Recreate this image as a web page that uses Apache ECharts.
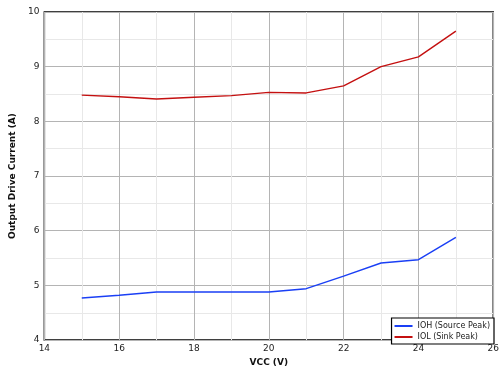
<!DOCTYPE html>
<html><head><meta charset="utf-8">
<script src="https://cdn.jsdelivr.net/npm/echarts@6/dist/echarts.min.js"></script>
<style>html,body{margin:0;padding:0;background:#fff}#c{width:502px;height:372px}</style>
</head><body><div id="c"></div>
<script>
const vcc = [15, 16, 17, 18, 19, 20, 21, 22, 23, 24, 25];
const ioh = [4.77, 4.82, 4.88, 4.88, 4.88, 4.88, 4.94, 5.17, 5.41, 5.47, 5.88];
const iol = [8.48, 8.45, 8.41, 8.44, 8.47, 8.53, 8.52, 8.65, 9.00, 9.18, 9.65];
const names = ['IOH (Source Peak)', 'IOL (Sink Peak)'];
const font = 'DejaVu Sans';
const chart = echarts.init(document.getElementById('c'), null, {renderer: 'canvas'});
chart.setOption({
  animation: false,
  textStyle: {fontFamily: font},
  grid: {left: 41, right: 8, top: 12, bottom: 28, show: true, borderColor: '#000', borderWidth: 1.5, containLabel: false},
  legend: {
    right: 8, bottom: 28, orient: 'vertical', backgroundColor: '#fff', borderColor: '#000', borderWidth: 1.2,
    borderRadius: 0, padding: [4, 4, 3, 3], itemGap: 3, itemWidth: 18, itemHeight: 2, icon: 'rect',
    textStyle: {fontFamily: font, fontSize: 8, color: '#222'}, data: names
  },
  xAxis: {
    type: 'value', min: 14, max: 26, interval: 2,
    name: 'VCC (V)', nameLocation: 'middle', nameGap: 15,
    nameTextStyle: {fontFamily: font, fontSize: 9, fontWeight: 'bold', color: '#111'},
    axisLine: {show: false}, axisTick: {show: false},
    axisLabel: {fontFamily: font, fontSize: 9, color: '#222', margin: 4},
    splitLine: {show: true, lineStyle: {color: '#b4b4b4', width: 1}},
    minorTick: {show: false, splitNumber: 2},
    minorSplitLine: {show: true, lineStyle: {color: '#e8e8e8', width: 1}}
  },
  yAxis: {
    type: 'value', min: 4, max: 10, interval: 1,
    name: 'Output Drive Current (A)', nameLocation: 'middle', nameGap: 21,
    nameTextStyle: {fontFamily: font, fontSize: 9, fontWeight: 'bold', color: '#111'},
    axisLine: {show: false}, axisTick: {show: false},
    axisLabel: {fontFamily: font, fontSize: 9, color: '#222', margin: 5},
    splitLine: {show: true, lineStyle: {color: '#b4b4b4', width: 1}},
    minorTick: {show: false, splitNumber: 2},
    minorSplitLine: {show: true, lineStyle: {color: '#e8e8e8', width: 1}}
  },
  series: [
    {name: names[0], type: 'line', data: vcc.map((x, i) => [x, ioh[i]]), showSymbol: false, symbol: 'none',
     lineStyle: {color: '#1a3ff5', width: 1.4}, itemStyle: {color: '#1a3ff5'}},
    {name: names[1], type: 'line', data: vcc.map((x, i) => [x, iol[i]]), showSymbol: false, symbol: 'none',
     lineStyle: {color: '#c41010', width: 1.4}, itemStyle: {color: '#c41010'}}
  ]
});
</script></body></html>
